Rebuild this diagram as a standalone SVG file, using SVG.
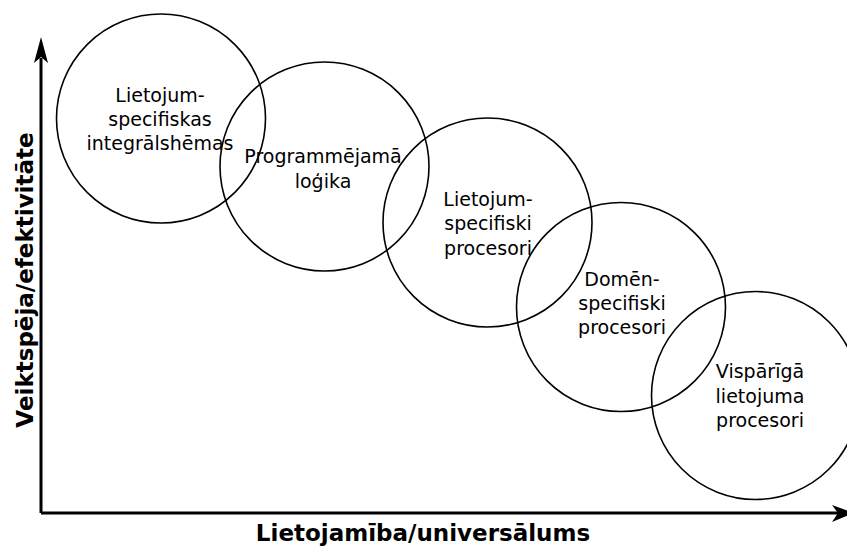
<svg xmlns="http://www.w3.org/2000/svg" width="847" height="546" viewBox="0 0 847 546">
  <style>
    .ring { fill: none; stroke: #000; stroke-width: 1.6; }
    .lbl { font-family: "DejaVu Sans", "Liberation Sans", sans-serif; font-size: 19px; fill: #000; text-anchor: middle; }
    .axis { fill: none; stroke: #000; stroke-width: 3; }
    .head { fill: #000; stroke: none; }
    .title { font-family: "DejaVu Sans", "Liberation Sans", sans-serif; font-size: 23px; font-weight: bold; fill: #000; text-anchor: middle; }
  </style>
  <rect width="847" height="546" fill="#fff"/>

  <!-- axes -->
  <g id="connectors">
    <path class="axis" d="M41,513 L41,58 M41,513 L838,513"/>
    <path class="head" d="M41,37 L48,63 L41,57 L34,63 Z"/>
    <path class="head" d="M854,513 L832,505 L838,513 L832,522 Z"/>
  </g>

  <g id="asic">
    <circle class="ring" cx="161" cy="118.5" r="104.5"/>
    <text class="lbl" x="160" y="102">Lietojum-</text>
    <text class="lbl" x="160" y="126">specifiskas</text>
    <text class="lbl" x="160" y="150">integrālshēmas</text>
  </g>

  <g id="programmable-logic">
    <circle class="ring" cx="324.5" cy="166.5" r="104.5"/>
    <text class="lbl" x="323" y="163">Programmējamā</text>
    <text class="lbl" x="323" y="188">loģika</text>
  </g>

  <g id="asip">
    <circle class="ring" cx="487.5" cy="222.5" r="104.5"/>
    <text class="lbl" x="488" y="206">Lietojum-</text>
    <text class="lbl" x="488" y="230">specifiski</text>
    <text class="lbl" x="488" y="255">procesori</text>
  </g>

  <g id="domain-specific">
    <circle class="ring" cx="621" cy="307" r="104.5"/>
    <text class="lbl" x="622" y="286">Domēn-</text>
    <text class="lbl" x="622" y="310">specifiski</text>
    <text class="lbl" x="622" y="334">procesori</text>
  </g>

  <g id="general-purpose">
    <circle class="ring" cx="755.5" cy="395.5" r="104"/>
    <text class="lbl" x="760" y="378">Vispārīgā</text>
    <text class="lbl" x="760" y="403">lietojuma</text>
    <text class="lbl" x="760" y="427">procesori</text>
  </g>

  <g id="axis-labels">
    <text class="title" x="423" y="541">Lietojamība/universālums</text>
    <text class="title" transform="translate(33,280) rotate(-90)" x="0" y="0">Veiktspēja/efektivitāte</text>
  </g>
</svg>
